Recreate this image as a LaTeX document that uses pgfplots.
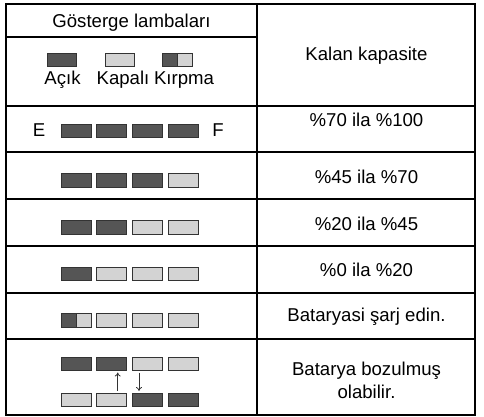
\documentclass[border=0pt]{standalone}
\usepackage{fontspec}
\setmainfont{Liberation Sans}
\usepackage{pgfplots}
\pgfplotsset{compat=1.18}
\usetikzlibrary{arrows.meta}
\definecolor{lampdark}{HTML}{555555}
\definecolor{lamplight}{HTML}{D3D3D3}
\definecolor{lampedge}{HTML}{333333}
\tikzset{lbl/.style={font=\fontsize{18.6}{22}\selectfont, inner sep=0pt, anchor=base}}
% \lamp{x0}{x1}{y0}{y1}{fill}
\newcommand\lamp[5]{\addplot[draw=lampedge, line width=1pt, fill=#5] coordinates {(#1,#3) (#2,#3) (#2,#4) (#1,#4)} -- cycle;}
\newcommand\rowline[3]{\addplot[black, line width=2pt] coordinates {(#1,#3) (#2,#3)};}
\begin{document}
\fontsize{18.6}{22}\selectfont
\begin{tikzpicture}
\begin{axis}[
  hide axis, scale only axis, width=484pt, height=417pt,
  xmin=0, xmax=484, ymin=0, ymax=417, y dir=reverse, clip=false,
]
% invisible frame that fixes the picture size
\addplot[draw=none, mark=none] coordinates {(0,0) (484,417)};
% table frame
\addplot[black, line width=2pt] coordinates {(6,4) (475,4) (475,415) (6,415)} -- cycle;
\addplot[black, line width=2pt] coordinates {(257,4) (257,415)};
\rowline{6}{257}{37}
\rowline{6}{475}{106}
\rowline{6}{475}{152}
\rowline{6}{475}{199}
\rowline{6}{475}{246}
\rowline{6}{475}{293}
\rowline{6}{475}{339}
% header texts
\node[lbl] at (axis cs:131.5,27.3) {Gösterge lambaları};
\node[lbl] at (axis cs:366.5,61) {Kalan kapasite};
% legend row
\lamp{47}{76}{54}{67}{lampdark}
\lamp{105}{134}{54}{67}{lamplight}
\lamp{162}{192}{54}{67}{lamplight}
\lamp{162}{177}{54}{67}{lampdark}
\node[lbl] at (axis cs:62.5,85) {Açık};
\node[lbl] at (axis cs:123,85) {Kapalı};
\node[lbl] at (axis cs:184,85) {Kırpma};
% row 70-100
\node[lbl] at (axis cs:39,136.5) {E};
\node[lbl] at (axis cs:218,136.5) {F};
\lamp{61}{91}{124}{137.5}{lampdark}
\lamp{96.5}{126.5}{124}{137.5}{lampdark}
\lamp{132}{162}{124}{137.5}{lampdark}
\lamp{168}{198}{124}{137.5}{lampdark}
\node[lbl] at (axis cs:366.5,126.5) {\%70 ila \%100};
% row 45-70
\lamp{61}{91}{173.5}{187}{lampdark}
\lamp{96.5}{126.5}{173.5}{187}{lampdark}
\lamp{132}{162}{173.5}{187}{lampdark}
\lamp{168}{198}{173.5}{187}{lamplight}
\node[lbl] at (axis cs:366.5,183) {\%45 ila \%70};
% row 20-45
\lamp{61}{91}{220.5}{234}{lampdark}
\lamp{96.5}{126.5}{220.5}{234}{lampdark}
\lamp{132}{162}{220.5}{234}{lamplight}
\lamp{168}{198}{220.5}{234}{lamplight}
\node[lbl] at (axis cs:366.5,230) {\%20 ila \%45};
% row 0-20
\lamp{61}{91}{267}{280.5}{lampdark}
\lamp{96.5}{126.5}{267}{280.5}{lamplight}
\lamp{132}{162}{267}{280.5}{lamplight}
\lamp{168}{198}{267}{280.5}{lamplight}
\node[lbl] at (axis cs:366.5,276.5) {\%0 ila \%20};
% row charge
\lamp{61}{91}{313.5}{327}{lamplight}
\lamp{61}{76}{313.5}{327}{lampdark}
\lamp{96.5}{126.5}{313.5}{327}{lamplight}
\lamp{132}{162}{313.5}{327}{lamplight}
\lamp{168}{198}{313.5}{327}{lamplight}
\node[lbl] at (axis cs:366.5,321) {Bataryasi şarj edin.};
% row broken
\lamp{61}{91}{357}{370.5}{lampdark}
\lamp{96.5}{126.5}{357}{370.5}{lampdark}
\lamp{132}{162}{357}{370.5}{lamplight}
\lamp{168}{198}{357}{370.5}{lamplight}
\lamp{61}{91}{393}{406.5}{lamplight}
\lamp{96.5}{126.5}{393}{406.5}{lamplight}
\lamp{132}{162}{393}{406.5}{lampdark}
\lamp{168}{198}{393}{406.5}{lampdark}
\addplot[lampedge, line width=0.8pt, -{To[length=4pt,width=6pt]}] coordinates {(117.7,390.5) (117.7,372.5)};
\addplot[lampedge, line width=0.8pt, -{To[length=4pt,width=6pt]}] coordinates {(139,372.5) (139,391)};
\node[lbl] at (axis cs:366.5,375) {Batarya bozulmuş};
\node[lbl] at (axis cs:366.5,398.7) {olabilir.};
\end{axis}
\end{tikzpicture}
\end{document}
